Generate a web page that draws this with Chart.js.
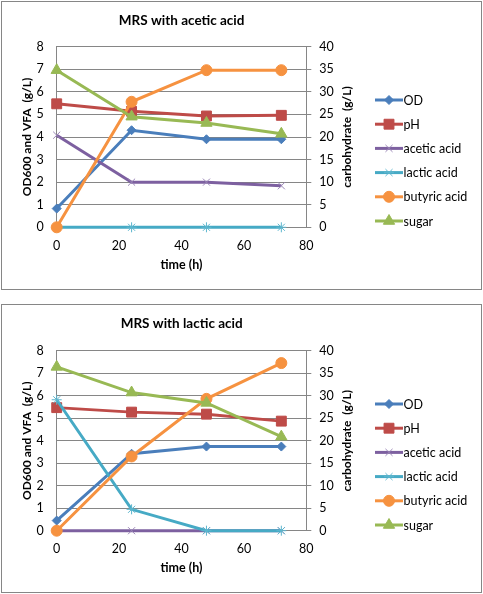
<!DOCTYPE html>
<html>
<head>
<meta charset="utf-8">
<script src="https://cdn.jsdelivr.net/npm/chart.js@4.4.1/dist/chart.umd.min.js"></script>
<style>
  html, body { margin:0; padding:0; background:#fff; }
  body { width:483px; height:594px; position:relative; overflow:hidden; }
  .box { position:absolute; left:1px; width:479px; height:287px; border:1px solid #868686; background:#fff; }
  .box canvas { position:absolute; left:0; top:0; }
</style>
</head>
<body>
<div class="box" style="top:1px"><canvas id="c1" width="479" height="287"></canvas></div>
<div class="box" style="top:304px"><canvas id="c2" width="479" height="287"></canvas></div>
<script>
// ---- data ----
const timeH = [0, 24, 48, 72];
const xTicks = [0, 20, 40, 60, 80];
const seriesNames = ['OD', 'pH', 'acetic acid', 'lactic acid', 'butyric acid', 'sugar'];

// MRS with acetic acid
const acOD      = [0.83, 4.30, 3.90, 3.90];
const acPH      = [5.47, 5.14, 4.93, 4.96];
const acAcetic  = [4.08, 2.00, 2.00, 1.84];
const acLactic  = [0, 0, 0, 0];
const acButyric = [0, 5.56, 6.96, 6.96];
const acSugar   = [34.8, 24.5, 23.1, 20.7];

// MRS with lactic acid
const laOD      = [0.45, 3.42, 3.74, 3.74];
const laPH      = [5.47, 5.27, 5.18, 4.87];
const laAcetic  = [0, 0, 0, 0];
const laLactic  = [5.82, 0.95, 0, 0];
const laButyric = [0, 3.30, 5.86, 7.45];
const laSugar   = [36.4, 30.7, 28.4, 20.9];

// ---- styles ----
const FONT = 'Lato';
const GRID = '#868686';
const styles = [
  { line:'#4A7EBB', fill:'#4A7EBB', border:'#4A7EBB', ps:'rectRot', r:4.5, bw:1 },
  { line:'#BE4B48', fill:'#BE4B48', border:'#BE4B48', ps:'rect', r:7, bw:1 },
  { line:'#7D60A0', fill:'#7D60A0', border:'#9A86B6', ps:'crossRot', r:5, bw:1 },
  { line:'#46AAC5', fill:'#46AAC5', border:'#5DB6CE', ps:'star', r:5, bw:1 },
  { line:'#F69240', fill:'#F69240', border:'#F69240', ps:'circle', r:5.5, bw:1 },
  { line:'#98B954', fill:'#98B954', border:'#98B954', ps:'triangle', r:6.5, bw:1 }
];

function drawMarker(ctx, s, x, y) {
  const r = s.r;
  ctx.save();
  ctx.fillStyle = s.fill; ctx.strokeStyle = s.border; ctx.lineWidth = s.bw;
  ctx.beginPath();
  if (s.ps === 'rectRot') {
    ctx.moveTo(x, y - r); ctx.lineTo(x + r, y); ctx.lineTo(x, y + r); ctx.lineTo(x - r, y); ctx.closePath();
    ctx.fill(); ctx.stroke();
  } else if (s.ps === 'rect') {
    const h = r * Math.SQRT1_2;
    ctx.rect(x - h, y - h, 2 * h, 2 * h); ctx.fill(); ctx.stroke();
  } else if (s.ps === 'circle') {
    ctx.arc(x, y, r, 0, Math.PI * 2); ctx.fill(); ctx.stroke();
  } else if (s.ps === 'triangle') {
    for (let k = 0; k < 3; k++) {
      const a = k * 2 * Math.PI / 3;
      const px = x + Math.sin(a) * r, py = y - Math.cos(a) * r;
      k ? ctx.lineTo(px, py) : ctx.moveTo(px, py);
    }
    ctx.closePath(); ctx.fill(); ctx.stroke();
  } else if (s.ps === 'crossRot') {
    const d = r * Math.SQRT1_2;
    ctx.moveTo(x - d, y - d); ctx.lineTo(x + d, y + d);
    ctx.moveTo(x - d, y + d); ctx.lineTo(x + d, y - d); ctx.stroke();
  } else if (s.ps === 'star') {
    const d = r * Math.SQRT1_2;
    ctx.moveTo(x - d, y - d); ctx.lineTo(x + d, y + d);
    ctx.moveTo(x - d, y + d); ctx.lineTo(x + d, y - d);
    ctx.moveTo(x - r, y); ctx.lineTo(x + r, y); ctx.stroke();
  }
  ctx.restore();
}

const extras = {
  id: 'extras',
  afterDraw(chart, args, opts) {
    const ctx = chart.ctx;
    const ca = chart.chartArea;
    ctx.save();
    ctx.font = 'bold 12px ' + FONT;
    ctx.fillStyle = '#000';
    ctx.textAlign = 'center'; ctx.textBaseline = 'middle';
    ctx.translate(opts.rightTitleX, (ca.top + ca.bottom) / 2);
    ctx.rotate(-Math.PI / 2);
    ctx.fillText(opts.rightTitle, 0, 0);
    ctx.restore();
    // legend
    chart.data.datasets.forEach((ds, i) => {
      const s = styles[i];
      const y = opts.legendTop + i * opts.legendStep;
      ctx.save();
      ctx.strokeStyle = s.line; ctx.lineWidth = 3;
      ctx.beginPath(); ctx.moveTo(opts.legendX0, y); ctx.lineTo(opts.legendX1, y); ctx.stroke();
      ctx.restore();
      drawMarker(ctx, s, (opts.legendX0 + opts.legendX1) / 2, y);
      ctx.save();
      ctx.font = '12.5px ' + FONT;
      ctx.fillStyle = '#000'; ctx.textAlign = 'left'; ctx.textBaseline = 'middle';
      ctx.fillText(ds.label, opts.legendX1 + 0.5, y + 0.5);
      ctx.restore();
    });
  }
};

function makeChart(id, title, series, p) {
  const axisIds = ['y', 'y', 'y', 'y', 'y', 'y1'];
  const datasets = series.map((vals, i) => {
    const s = styles[i];
    return {
      label: seriesNames[i],
      data: timeH.map((t, k) => ({ x: t, y: vals[k] })),
      yAxisID: axisIds[i],
      borderColor: s.line, borderWidth: 3,
      pointStyle: s.ps, pointRadius: s.r, pointBackgroundColor: s.fill,
      pointBorderColor: s.border, pointBorderWidth: s.bw,
      tension: 0, clip: false, order: 5 - i
    };
  });
  return new Chart(document.getElementById(id), {
    type: 'line',
    data: { datasets },
    options: {
      responsive: false, animation: false, events: [],
      layout: { padding: { left: 0, right: 479 - p.right - 55, top: 0, bottom: 0 } },
      plugins: {
        legend: { display: false }, tooltip: { enabled: false },
        title: { display: true, text: title, color: '#000',
          font: { family: FONT, size: 13.5, weight: 'bold' },
          padding: { top: p.titleY - 8.1, bottom: p.top - (p.titleY - 8.1) - 16.2 } },
        extras: { rightTitle: 'carbohydrate  (g/L)', rightTitleX: p.rightTitleX,
          legendX0: 373, legendX1: 401, legendTop: p.legendTop, legendStep: 24.2 }
      },
      scales: {
        x: {
          type: 'linear', min: 0, max: 80,
          afterBuildTicks: (sc) => { sc.ticks = xTicks.map(v => ({ value: v })); },
          ticks: { color: '#000', font: { family: FONT, size: 12.5 }, padding: 11, maxRotation: 0 },
          grid: { display: false, drawTicks: false },
          border: { display: true, color: GRID },
          title: { display: true, text: 'time (h)', color: '#000',
            font: { family: FONT, size: 12.5, weight: 'bold' }, padding: { top: 0, bottom: 16.5 } },
          afterFit: (sc) => { sc.height = 287 - p.bottom; }
        },
        y: {
          position: 'left', min: 0, max: 8,
          ticks: { stepSize: 1, color: '#000', font: { family: FONT, size: 12.5 }, padding: 13 },
          grid: { color: GRID, drawTicks: false, lineWidth: 1 },
          border: { display: true, color: GRID },
          title: { display: true, text: 'OD600 and VFA  (g/L)', color: '#000',
            font: { family: FONT, size: 12, weight: 'bold' }, padding: { top: 18, bottom: 0 } },
          afterFit: (sc) => { sc.width = p.left; }
        },
        y1: {
          position: 'right', min: 0, max: 40,
          ticks: { stepSize: 5, color: '#000', font: { family: FONT, size: 12.5 }, padding: 8 },
          grid: { drawOnChartArea: false, drawTicks: true, tickLength: 5, color: GRID },
          border: { display: true, color: GRID },
          afterFit: (sc) => { sc.width = 55; }
        }
      }
    },
    plugins: [extras]
  });
}

makeChart('c1', 'MRS with acetic acid',
  [acOD, acPH, acAcetic, acLactic, acButyric, acSugar],
  { left: 54.7, right: 304.3, top: 44.7, bottom: 225.3, titleY: 19, rightTitleX: 345.5, legendTop: 98 });
makeChart('c2', 'MRS with lactic acid',
  [laOD, laPH, laAcetic, laLactic, laButyric, laSugar],
  { left: 54.7, right: 304.3, top: 45.7, bottom: 225.7, titleY: 19, rightTitleX: 345.5, legendTop: 99 });
</script>
</body>
</html>
